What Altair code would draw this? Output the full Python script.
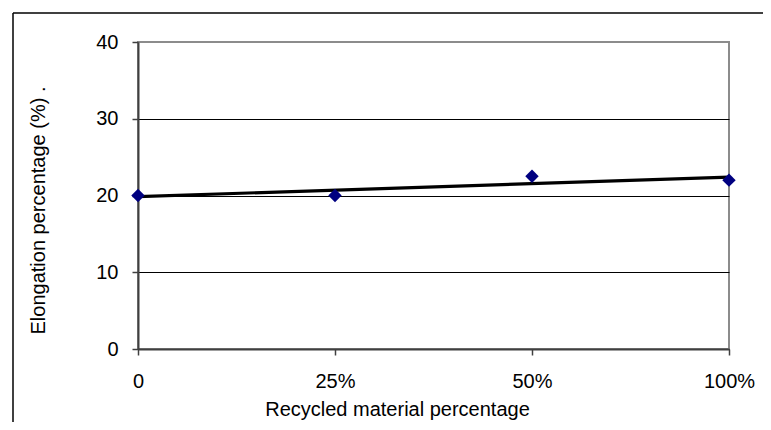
import altair as alt
import pandas as pd

categories = ["0", "25%", "50%", "100%"]
positions = [0, 1, 2, 3]
elongation = [20.0, 20.0, 22.5, 22.0]
y_ticks = [0, 10, 20, 30, 40]

df = pd.DataFrame({"pos": positions, "cat": categories, "elong": elongation})

label_expr = "[" + ",".join('"%s"' % c for c in categories) + "][datum.value]"
FONT = "Liberation Sans"

x_enc = alt.X(
    "pos:Q",
    scale=alt.Scale(domain=[0, 3], nice=False, zero=False),
    axis=alt.Axis(
        values=positions, labelExpr=label_expr, title="Recycled material percentage",
        grid=False, tickSize=6, tickColor="#404040", tickWidth=1.5,
        domainColor="#404040", domainWidth=2, labelPadding=16,
        labelFontSize=20, titleFontSize=20, titleFontWeight="normal",
        labelFlush=False, labelOverlap=False,
        titleX=259, titleY=66, titleBaseline="alphabetic", titleAlign="center",
        labelFont=FONT, titleFont=FONT, labelColor="black", titleColor="black",
    ),
)
y_enc = alt.Y(
    "elong:Q",
    scale=alt.Scale(domain=[0, 40], nice=False),
    axis=alt.Axis(
        values=y_ticks, title="Elongation percentage (%) .",
        grid=True,
        gridColor={"condition": {"test": "datum.value === 40", "value": "#8c8c8c"}, "value": "#000000"},
        gridWidth=1,
        tickSize=6, tickColor="#404040", tickWidth=1.5,
        domainColor="#404040", domainWidth=2, labelPadding=14,
        labelFontSize=20, titleFontSize=20, titleFontWeight="normal",
        labelFont=FONT, titleFont=FONT, labelColor="black", titleColor="black",
        titleX=-94, titleY=168, titleBaseline="alphabetic", titleAlign="center", titleAngle=270,
    ),
)

trend = alt.Chart(df).transform_regression(
    "pos", "elong", extent=[0, 3]
).mark_line(color="black", strokeWidth=3.2).encode(x=x_enc, y=y_enc)

points = alt.Chart(df).mark_point(
    shape="diamond", filled=True, color="#000080", size=180, opacity=1
).encode(x=x_enc, y=y_enc)

frame_df = pd.DataFrame({"a": [0]})
left_frame = alt.Chart(frame_df).mark_rule(color="black", strokeWidth=1.5).encode(
    x=alt.value(-125), y=alt.value(-29), y2=alt.value(400)
)
top_frame = alt.Chart(frame_df).mark_rule(color="black", strokeWidth=1.5).encode(
    x=alt.value(-125), x2=alt.value(640), y=alt.value(-29)
)

chart = alt.layer(trend, points, left_frame, top_frame).properties(
    width=591, height=307,
    autosize=alt.AutoSizeParams(type="none"),
    padding={"left": 130, "top": 34, "right": 34, "bottom": 73},
    background="white",
).configure_view(stroke="#8c8c8c", strokeWidth=2)

chart.save("out.html", embed_options={"renderer": "svg", "actions": False})
